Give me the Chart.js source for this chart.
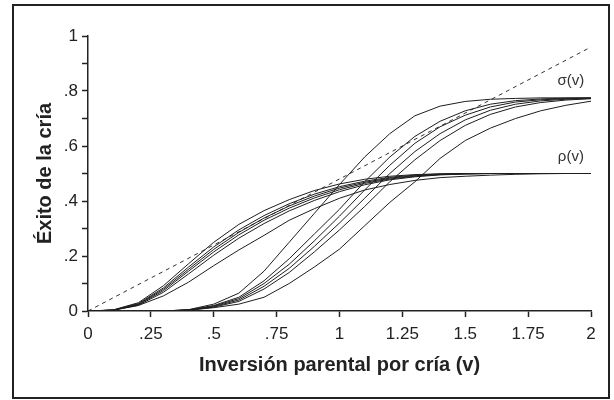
<!DOCTYPE html>
<html lang="es">
<head>
  <meta charset="UTF-8">
  <title>Éxito de la cría</title>
  <style>
    body { margin: 0; background: #fff; }
    .wrap { position: relative; width: 614px; height: 400px; }
    .frame {
      position: absolute; left: 12px; top: 4px; width: 598px; height: 395px;
      border: 2px solid #222; box-sizing: border-box; pointer-events: none;
    }
    canvas { position: absolute; left: 0; top: 0; }
  </style>
</head>
<body>
  <div class="wrap">
    <canvas id="chart" width="614" height="400"></canvas>
    <div class="frame"></div>
  </div>

  <script src="https://cdn.jsdelivr.net/npm/chart.js"></script>
  <script>
    // inversión parental v
    const xs = [0, 0.1, 0.2, 0.3, 0.4, 0.5, 0.6, 0.7, 0.8, 0.9, 1.0, 1.1, 1.2, 1.3, 1.4, 1.5, 1.6, 1.7, 1.8, 1.9, 2.0];

    // curvas rho(v)
    const rho1 = [0, .004, .03, .092, .172, .25, .315, .365, .405, .438, .462, .479, .49, .496, .499, .5, .5, .5, .5, .5, .5];
    const rho2 = [0, .003, .027, .084, .16, .233, .295, .347, .39, .425, .452, .472, .486, .494, .498, .5, .5, .5, .5, .5, .5];
    const rho3 = [0, .003, .025, .079, .152, .224, .286, .338, .382, .418, .447, .468, .483, .492, .497, .499, .5, .5, .5, .5, .5];
    const rho4 = [0, .003, .023, .074, .145, .215, .277, .33, .374, .411, .441, .464, .48, .49, .496, .499, .5, .5, .5, .5, .5];
    const rho5 = [0, .003, .021, .068, .135, .203, .265, .318, .364, .402, .434, .459, .477, .488, .495, .498, .5, .5, .5, .5, .5];
    const rho6 = [0, .003, .02, .055, .105, .165, .222, .275, .33, .372, .41, .44, .46, .475, .485, .49, .494, .497, .499, .5, .5];

    // curvas sigma(v)
    const sig1 = [null, null, null, 0, .005, .025, .065, .145, .25, .355, .46, .56, .645, .71, .745, .762, .77, .773, .775, .775, .775];
    const sig2 = [null, null, null, 0, .004, .02, .05, .11, .19, .28, .37, .47, .56, .635, .69, .728, .752, .765, .771, .774, .775];
    const sig3 = [null, null, null, 0, .004, .018, .045, .10, .17, .255, .345, .44, .53, .61, .67, .712, .742, .76, .768, .772, .774];
    const sig4 = [null, null, null, 0, .003, .016, .04, .09, .155, .235, .32, .41, .50, .58, .645, .695, .73, .752, .764, .77, .773];
    const sig5 = [null, null, null, 0, .003, .014, .035, .08, .14, .215, .295, .38, .47, .55, .62, .675, .715, .742, .758, .767, .772];
    const sig6 = [null, null, null, 0, .003, .012, .025, .05, .10, .16, .225, .31, .395, .47, .555, .62, .665, .70, .728, .748, .763];

    // recta discontinua
    const lineX = [0, 2];
    const lineY = [0, 0.96];

    const xTicks = [0, 0.25, 0.5, 0.75, 1, 1.25, 1.5, 1.75, 2];
    const yTicks = [0, 0.2, 0.4, 0.6, 0.8, 1];

    const curveLabels = [
      { text: 'σ(v)', x: 1.92, y: 0.836 },
      { text: 'ρ(v)', x: 1.92, y: 0.56 }
    ];

    function fmt(v) {
      const s = String(Math.round(v * 100) / 100);
      return s.startsWith('0.') ? s.slice(1) : s;
    }

    function curve(arr) {
      return {
        data: xs.map((x, i) => ({ x: x, y: arr[i] })),
        borderColor: '#1e1e1e',
        borderWidth: 1,
        pointRadius: 0,
        tension: 0,
        fill: false
      };
    }

    const labelPlugin = {
      id: 'curveLabels',
      afterDatasetsDraw(chart) {
        const { ctx, scales } = chart;
        ctx.save();
        ctx.font = '15px "Liberation Sans", Arial, sans-serif';
        ctx.fillStyle = '#333';
        ctx.textAlign = 'center';
        ctx.textBaseline = 'middle';
        curveLabels.forEach(l => {
          ctx.fillText(l.text, scales.x.getPixelForValue(l.x), scales.y.getPixelForValue(l.y));
        });
        ctx.restore();
      }
    };

    Chart.defaults.font.family = '"Liberation Sans", Arial, sans-serif';
    Chart.defaults.color = '#222';

    const datasets = [rho1, rho2, rho3, rho4, rho5, rho6, sig1, sig2, sig3, sig4, sig5, sig6].map(curve);
    datasets.push({
      data: lineX.map((x, i) => ({ x: x, y: lineY[i] })),
      borderColor: '#333',
      borderWidth: 1,
      borderDash: [4, 4],
      pointRadius: 0,
      fill: false
    });

    new Chart(document.getElementById('chart'), {
      type: 'line',
      data: { datasets: datasets },
      plugins: [labelPlugin],
      options: {
        responsive: false,
        animation: false,
        layout: { padding: { left: 0, top: 36, right: 23, bottom: 0 } },
        plugins: { legend: { display: false }, tooltip: { enabled: false } },
        scales: {
          x: {
            type: 'linear',
            min: 0,
            max: 2,
            afterFit: s => { s.height = 89; },
            afterBuildTicks: s => { s.ticks = xTicks.map(v => ({ value: v })); },
            ticks: { autoSkip: false, maxRotation: 0, padding: 7, font: { size: 17 }, callback: v => fmt(v) },
            grid: { drawOnChartArea: false, drawTicks: true, tickLength: 6, tickColor: '#222', tickWidth: 1.5 },
            border: { display: true, color: '#222', width: 1.5 },
            title: {
              display: true,
              text: 'Inversión parental por cría (v)',
              font: { size: 20, weight: 'bold' },
              color: '#222',
              padding: { top: 0, bottom: 23 }
            }
          },
          y: {
            type: 'linear',
            min: 0,
            max: 1,
            afterFit: s => { s.width = 88; },
            afterBuildTicks: s => {
              const t = [];
              for (let i = 0; i <= 10; i++) t.push({ value: i / 10 });
              s.ticks = t;
            },
            ticks: {
              autoSkip: false,
              padding: 4,
              font: { size: 17 },
              callback: v => yTicks.some(t => Math.abs(t - v) < 1e-6) ? fmt(v) : ''
            },
            grid: { drawOnChartArea: false, drawTicks: true, tickLength: 6, tickColor: '#222', tickWidth: 1.5 },
            border: { display: true, color: '#222', width: 1.5 },
            title: {
              display: true,
              text: 'Éxito de la cría',
              font: { size: 20, weight: 'bold' },
              color: '#222',
              padding: { top: 33, bottom: 0 }
            }
          }
        }
      }
    });
  </script>
</body>
</html>
